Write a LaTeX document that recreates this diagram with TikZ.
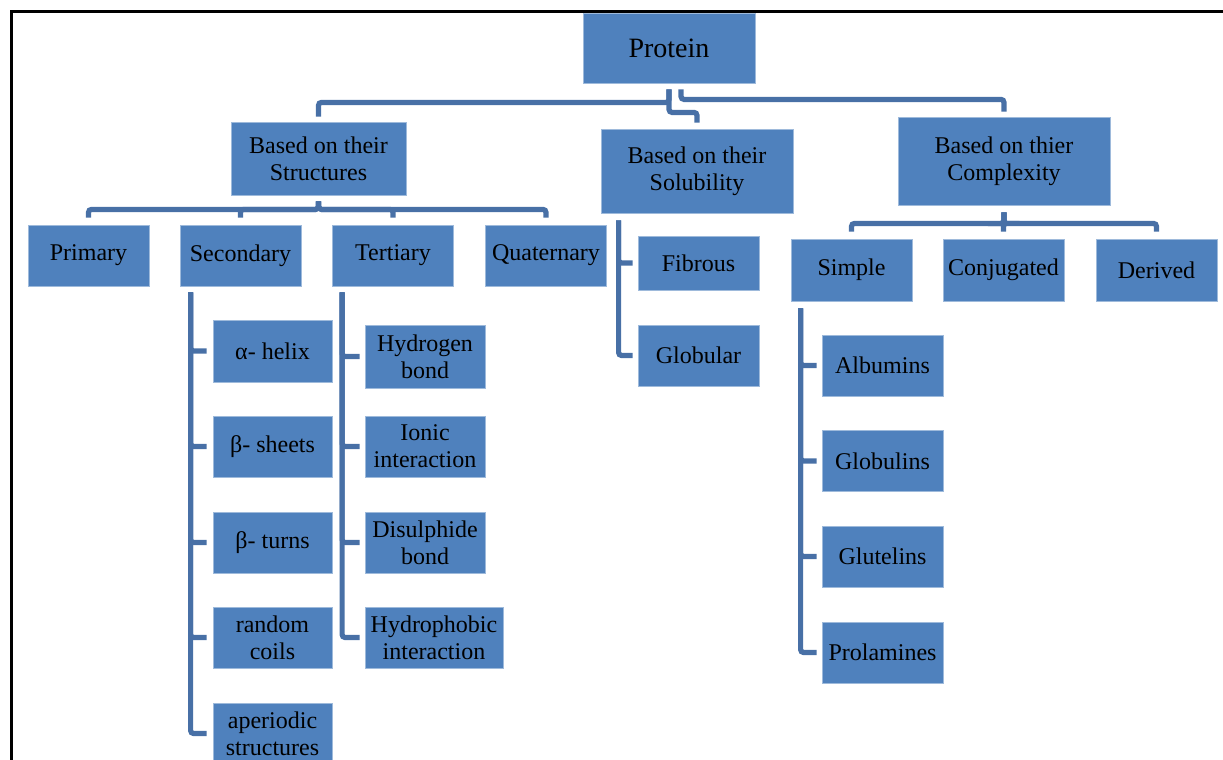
\documentclass[tikz,border=0pt]{standalone}
\usepackage{fontspec}
\setmainfont{Liberation Serif}
\usetikzlibrary{positioning}
\definecolor{boxblue}{RGB}{79,129,189}
\definecolor{linkblue}{RGB}{72,112,166}

\begin{document}
\begin{tikzpicture}[x=0.5pt, y=-0.5pt,
    box/.style={draw=boxblue!55!white, line width=0.4pt, fill=boxblue, align=center,
        inner sep=1pt, minimum width=60.5pt, minimum height=30.5pt,
        font=\fontsize{12}{13.5}\selectfont},
    conn/.style={draw=linkblue, line width=2.6pt, rounded corners=1.5pt}]
    \useasboundingbox (0,0) rectangle (1223,760);
    \clip (0,0) rectangle (1223,760);

    % Frame
    \draw[line width=1.5pt] (11,770) -- (11,11) -- (1230,11);

    % Top levels
    \node[box, minimum width=86pt, minimum height=35pt, font=\fontsize{14}{16}\selectfont] (protein) at (669,48) {Protein};
    \node[box, minimum width=87.5pt, minimum height=36.5pt] (struct) at (318.5,158.5) {Based on their\\Structures};
    \node[box, minimum width=96pt, minimum height=42pt] (solub) at (697,171) {Based on their\\Solubility};
    \node[box, minimum width=106pt, minimum height=44pt] (complex) at (1004,161) {Based on thier\\Complexity};

    % Structures
    \foreach \x/\name/\txt in {88.5/primary/Primary, 240.5/second/Secondary, 393/tert/Tertiary, 546/quat/Quaternary}
        \node[box] (\name) at (\x,255.5) {\txt};

    \node[box, minimum width=59.5pt, minimum height=31pt] (alpha) at (272.5,351) {α- helix};
    \foreach \y/\name/\txt in {446.5/bsheets/{β- sheets}, 542.5/bturns/{β- turns}, 637.5/rcoils/{random\\coils}, 733.5/aper/{aperiodic\\structures}}
        \node[box, minimum width=59.5pt] (\name) at (272.5,\y) {\txt};

    \node[box, minimum width=60pt, minimum height=31.5pt] (hbond) at (425,356.5) {Hydrogen\\bond};
    \node[box, minimum width=60pt] (ionic) at (425,446.5) {Ionic\\interaction};
    \node[box, minimum width=60pt] (disul) at (425,542.5) {Disulphide\\bond};
    \node[box, minimum width=69pt] (hphob) at (434,637.5) {Hydrophobic\\interaction};

    % Solubility
    \node[box, minimum height=27pt] (fibrous) at (698.5,263) {Fibrous};
    \node[box] (globular) at (698.5,355.5) {Globular};

    % Complexity
    \foreach \x/\name/\txt in {851.5/simple/Simple, 1003.5/conj/Conjugated, 1156.5/derived/Derived}
        \node[box, minimum height=31pt] (\name) at (\x,270) {\txt};
    \foreach \y/\name/\txt in {365.5/albumins/Albumins, 461/globulins/Globulins, 556.5/glutelins/Glutelins, 652.5/prolamines/Prolamines}
        \node[box] (\name) at (882.5,\y) {\txt};

    % Connectors
    \draw[conn, shorten <=3pt, shorten >=2.5pt] (protein.south) -- ++(0,19) -| (struct.north);
    \draw[conn, shorten <=3pt, shorten >=3pt] (protein.south) -- ++(0,29) -| (solub.north);
    \draw[conn, shorten <=3pt, shorten >=2.5pt] ([xshift=6pt]protein.south) -- ++(0,16) -| (complex.north);

    \foreach \c in {primary,second,tert,quat}
        \draw[conn, shorten <=3pt, shorten >=3.5pt] (struct.south) -- ++(0,14) -| (\c.north);
    \foreach \c in {simple,conj,derived}
        \draw[conn, shorten <=3.5pt, shorten >=3.5pt] (complex.south) -- ++(0,18) -| (\c.north);

    \foreach \c in {alpha,bsheets,bturns,rcoils,aper}
        \draw[conn, shorten >=3pt] ([xshift=5.5pt,yshift=-3pt]second.south west) |- (\c.west);
    \foreach \c in {hbond,ionic,disul,hphob}
        \draw[conn, shorten >=2.5pt] ([xshift=5pt,yshift=-3pt]tert.south west) |- (\c.west);
    \foreach \c in {fibrous,globular}
        \draw[conn, shorten >=2.5pt] ([xshift=9pt,yshift=-3.5pt]solub.south west) |- (\c.west);
    \foreach \c in {albumins,globulins,glutelins,prolamines}
        \draw[conn, shorten >=2.5pt] ([xshift=5pt,yshift=-3.5pt]simple.south west) |- (\c.west);
\end{tikzpicture}
\end{document}
